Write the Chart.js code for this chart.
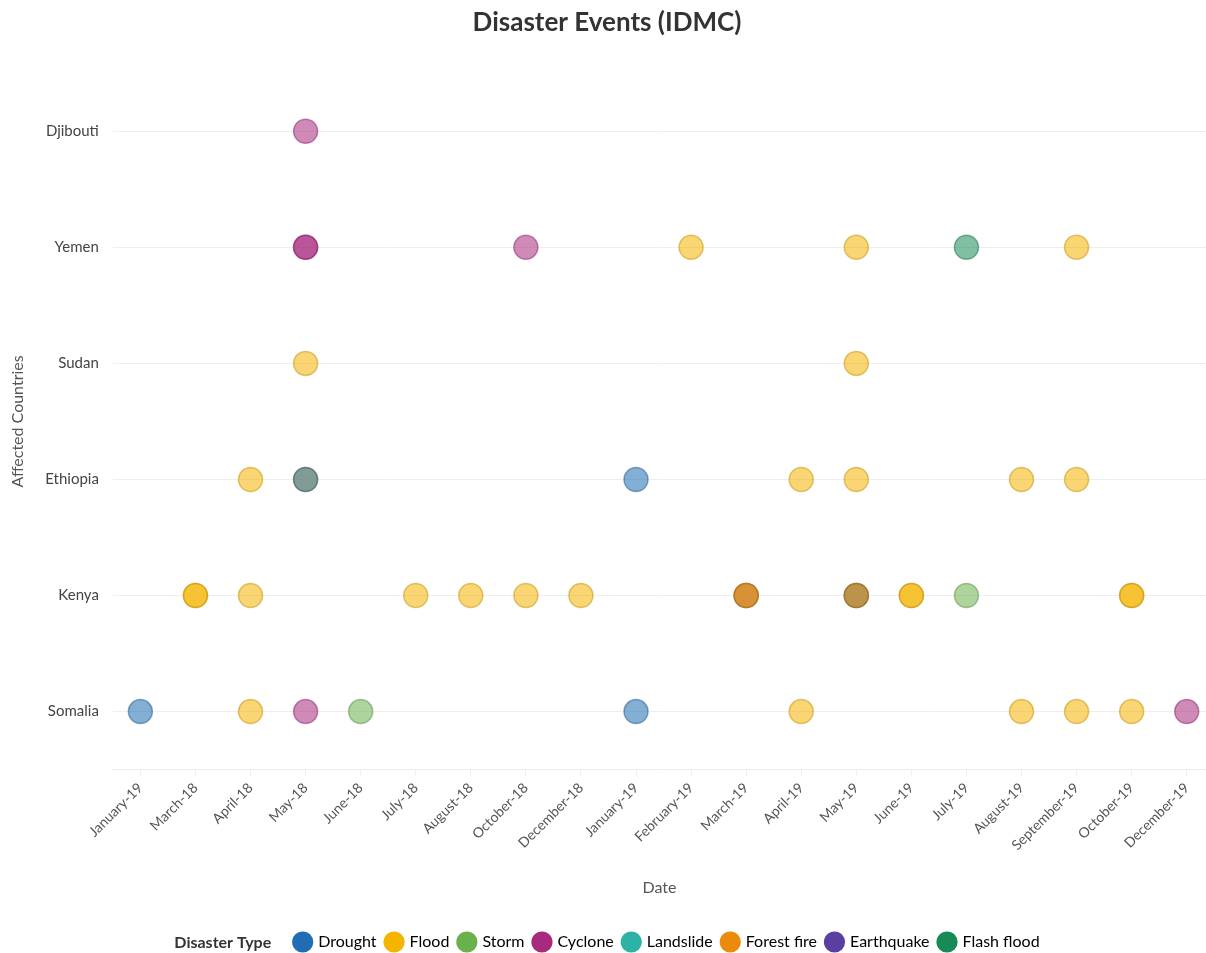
<!DOCTYPE html>
<html>
<head>
<meta charset="utf-8">
<script src="https://cdn.jsdelivr.net/npm/chart.js@4.4.1/dist/chart.umd.min.js"></script>
<style>
  html, body { margin: 0; padding: 0; background: #ffffff; }
  #wrap { width: 1206px; height: 953px; position: relative; }
</style>
</head>
<body>
<div id="wrap"><canvas id="c"></canvas></div>
<script>
// ---- Data ----
const xLabels = ['January-19','March-18','April-18','May-18','June-18','July-18','August-18','October-18','December-18','January-19','February-19','March-19','April-19','May-19','June-19','July-19','August-19','September-19','October-19','December-19'];
const countries = ['Djibouti','Yemen','Sudan','Ethiopia','Kenya','Somalia'];
const disasterTypes = ['Drought','Flood','Storm','Cyclone','Landslide','Forest fire','Earthquake','Flash flood'];
const typeColors = ['#1f6eb3','#f4b400','#6ab04c','#a82a7e','#2db3a6','#ec8a0c','#5b3fa0','#178a56'];

// events: [date index, country]
const droughtEvents = [[0,'Somalia'],[3,'Ethiopia'],[9,'Ethiopia'],[9,'Somalia'],[11,'Kenya'],[13,'Kenya']];
const floodEvents = [[3,'Sudan'],[13,'Sudan'],[10,'Yemen'],[13,'Yemen'],[17,'Yemen'],
  [2,'Ethiopia'],[3,'Ethiopia'],[12,'Ethiopia'],[13,'Ethiopia'],[16,'Ethiopia'],[17,'Ethiopia'],
  [1,'Kenya'],[1,'Kenya'],[2,'Kenya'],[5,'Kenya'],[6,'Kenya'],[7,'Kenya'],[8,'Kenya'],[13,'Kenya'],[14,'Kenya'],[14,'Kenya'],[18,'Kenya'],[18,'Kenya'],
  [2,'Somalia'],[12,'Somalia'],[16,'Somalia'],[17,'Somalia'],[18,'Somalia']];
const stormEvents = [[4,'Somalia'],[15,'Kenya']];
const cycloneEvents = [[3,'Djibouti'],[3,'Yemen'],[3,'Yemen'],[7,'Yemen'],[3,'Somalia'],[19,'Somalia']];
const landslideEvents = [];
const forestFireEvents = [[11,'Kenya'],[11,'Kenya'],[13,'Kenya']];
const earthquakeEvents = [];
const flashFloodEvents = [[15,'Yemen']];

const eventsByType = [droughtEvents, floodEvents, stormEvents, cycloneEvents, landslideEvents, forestFireEvents, earthquakeEvents, flashFloodEvents];
// drawing order (lower = on top)
const drawOrder = [1, 7, 3, 3, 3, 0, 3, 3];

function rgba(hex, a) {
  const n = parseInt(hex.slice(1), 16);
  return `rgba(${(n>>16)&255},${(n>>8)&255},${n&255},${a})`;
}
function darker(hex, f, a) {
  const n = parseInt(hex.slice(1), 16);
  const r = Math.round(((n>>16)&255)*f), g = Math.round(((n>>8)&255)*f), b = Math.round((n&255)*f);
  return `rgba(${r},${g},${b},${a})`;
}

const datasets = disasterTypes.map((t, i) => ({
  label: t,
  data: eventsByType[i].map(e => ({ x: e[0], y: e[1] })),
  backgroundColor: rgba(typeColors[i], 0.55),
  borderColor: darker(typeColors[i], 0.8, 0.5),
  borderWidth: 1.5,
  pointRadius: 12,
  pointHoverRadius: 12,
  clip: false,
  order: drawOrder[i]
}));

const FONT = 'Lato, "Open Sans", sans-serif';

const legendTitlePlugin = {
  id: 'legendTitle',
  afterLayout(chart, args, opts) {
    const lg = chart.legend;
    const ctx = chart.ctx;
    ctx.save();
    ctx.font = opts.font;
    const w = ctx.measureText(opts.text).width;
    ctx.restore();
    const shift = (w + opts.gap) / 2;
    lg.left += shift; lg.right += shift;
    lg.top += opts.dy; lg.bottom += opts.dy;
  },
  afterDraw(chart, args, opts) {
    const lg = chart.legend;
    const pad = lg.options.labels.padding;
    const startX = (lg.left + pad + lg.right - lg.lineWidths[0]) / 2;
    const fs = lg.options.labels.font.size;
    const y = lg.top + pad + fs / 2 + 1;
    const ctx = chart.ctx;
    ctx.save();
    ctx.font = opts.font;
    ctx.fillStyle = opts.color;
    ctx.textAlign = 'right';
    ctx.textBaseline = 'middle';
    ctx.fillText(opts.text, startX - opts.gap, y);
    ctx.restore();
  }
};

new Chart(document.getElementById('c'), {
  type: 'scatter',
  data: { datasets },
  plugins: [legendTitlePlugin],
  options: {
    responsive: true,
    maintainAspectRatio: false,
    animation: false,
    layout: { autoPadding: false, padding: { left: 8, right: 0, top: 4, bottom: 0 } },
    scales: {
      x: {
        type: 'linear',
        min: -0.5,
        max: 19.35,
        afterFit: (axis) => { axis.paddingRight = 0; },
        grid: { drawOnChartArea: false, drawTicks: true, tickLength: 6, color: '#eeeeee' },
        border: { display: true, color: '#eeeeee' },
        ticks: {
          stepSize: 1,
          includeBounds: false,
          autoSkip: false,
          maxRotation: 45,
          minRotation: 45,
          color: '#555555',
          font: { family: FONT, size: 14 },
          padding: 4,
          callback: (v) => (Number.isInteger(v) && xLabels[v] !== undefined) ? xLabels[v] : ''
        },
        title: { display: true, text: 'Date', color: '#555555', font: { family: FONT, size: 16 }, padding: { top: 20, bottom: 20 } }
      },
      y: {
        type: 'category',
        labels: countries,
        offset: true,
        grid: { color: '#eeeeee', offset: false, drawTicks: false },
        border: { display: false },
        ticks: { color: '#444444', font: { family: FONT, size: 15 }, padding: 14 },
        title: { display: true, text: 'Affected Countries', color: '#555555', font: { family: FONT, size: 16 }, padding: { top: 0, bottom: 4 } }
      }
    },
    plugins: {
      title: {
        display: true,
        text: 'Disaster Events (IDMC)',
        color: '#333333',
        font: { family: FONT, size: 26, weight: 'bold' },
        padding: { top: 3, bottom: 35 }
      },
      legend: {
        position: 'bottom',
        labels: {
          usePointStyle: true,
          pointStyle: 'circle',
          boxWidth: 15,
          boxHeight: 15,
          padding: 10,
          color: '#444444',
          font: { family: FONT, size: 16 },
          generateLabels: (chart) => chart.data.datasets.map((ds, i) => ({
            text: ds.label,
            fillStyle: typeColors[i],
            strokeStyle: typeColors[i],
            lineWidth: 0,
            pointStyle: 'circle',
            hidden: false,
            datasetIndex: i
          }))
        }
      },
      legendTitle: { text: 'Disaster Type', font: 'bold 16px Lato, "Open Sans", sans-serif', color: '#333333', gap: 24, dy: 7 },
      tooltip: { enabled: false }
    }
  }
});
</script>
</body>
</html>
